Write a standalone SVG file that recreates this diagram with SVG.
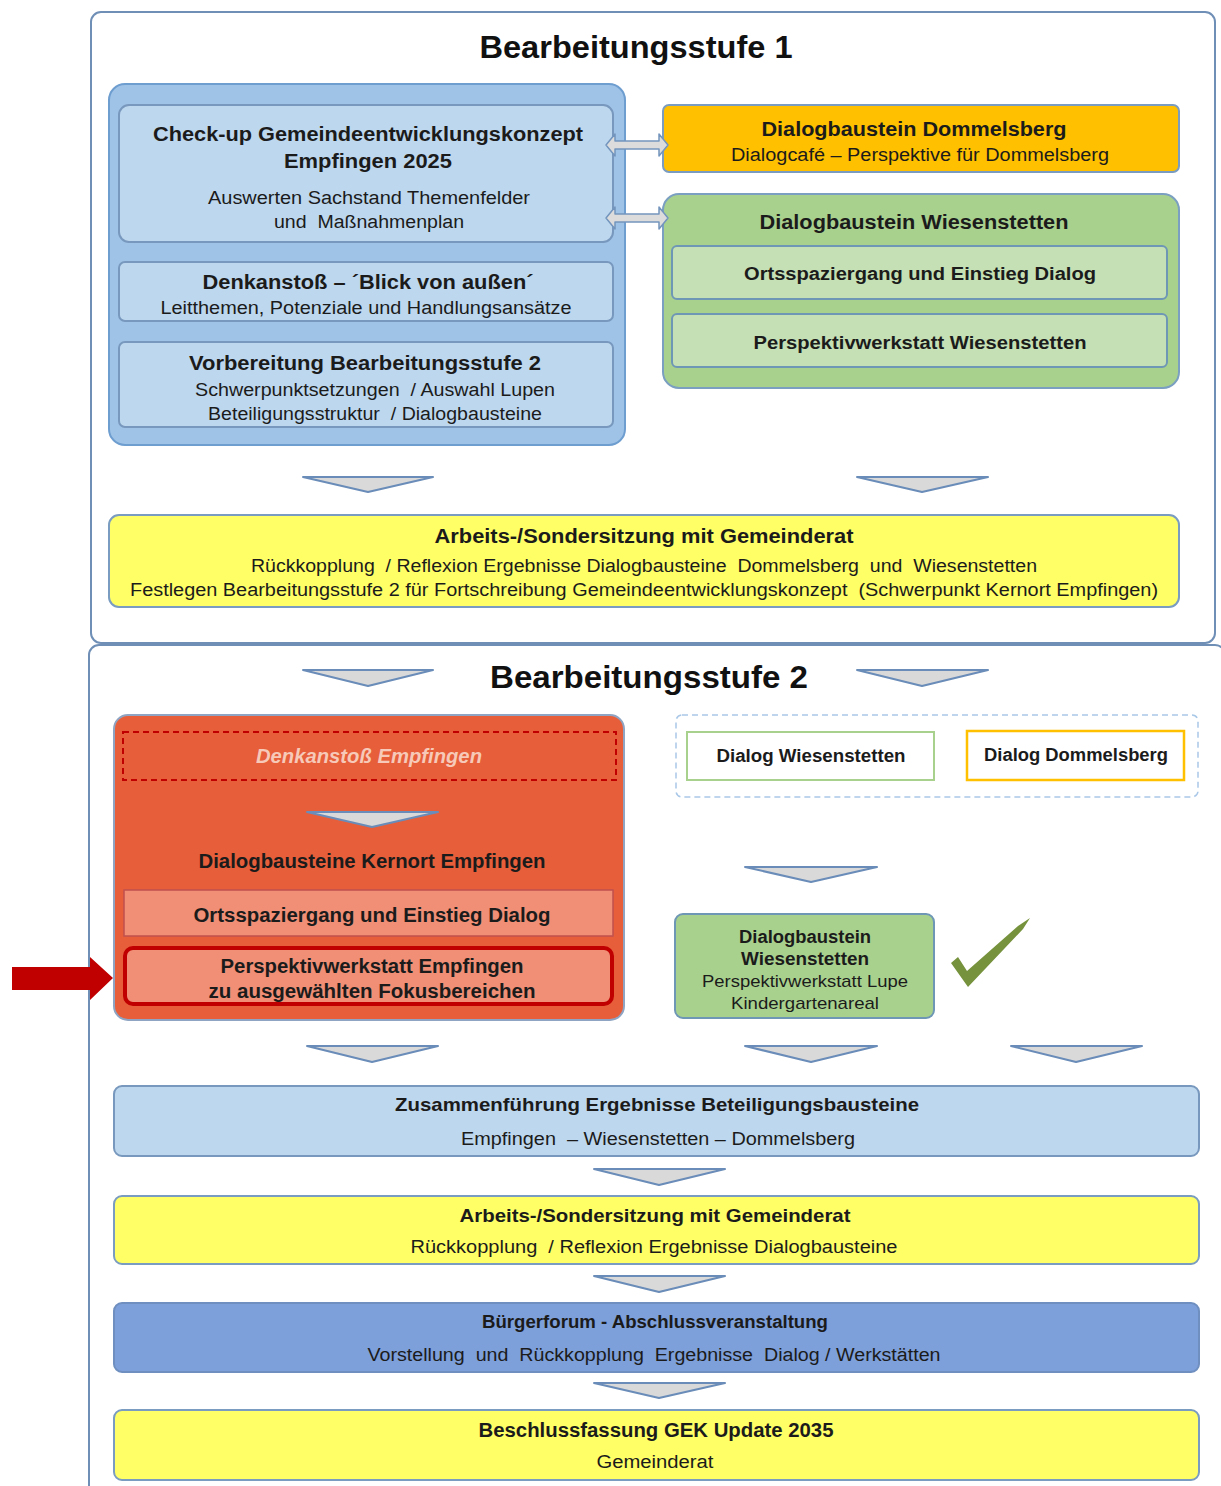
<svg xmlns="http://www.w3.org/2000/svg" width="1221" height="1486" viewBox="0 0 1221 1486">
  <style>
    text { font-family: "Liberation Sans", Arial, sans-serif; fill: #1b1b1b; text-anchor: middle; white-space: pre; }
    .b { font-weight: bold; font-size: 20px; }
    .r { font-size: 18px; }
    .title { font-weight: bold; font-size: 31px; fill: #111; }
    .frame { fill: #ffffff; stroke: #6f8fb6; stroke-width: 2; }
    .chev { fill: #d9d9d9; stroke: #6a8cb8; stroke-width: 2; stroke-linejoin: round; }
    .dbl { fill: #dcdcdc; stroke: #7395bd; stroke-width: 1.5; stroke-linejoin: round; }
    .lb { fill: #bdd7ee; stroke: #7898bd; stroke-width: 2; }
    .yel { fill: #ffff66; stroke: #7a9cc0; stroke-width: 2; }
  </style>

  <!-- stage frames -->
  <rect class="frame" x="91" y="12" width="1124" height="631" rx="10"/>
  <rect class="frame" x="89" y="645" width="1136" height="900" rx="10"/>

  <text class="title" x="636" y="58" textLength="313" lengthAdjust="spacingAndGlyphs">Bearbeitungsstufe 1</text>
  <text class="title" x="649" y="688" textLength="318" lengthAdjust="spacingAndGlyphs">Bearbeitungsstufe 2</text>

  <!-- Stage 1: check-up block -->
  <g id="checkup-group">
    <rect x="109" y="84" width="516" height="361" rx="16" fill="#9fc3e7" stroke="#6e9dd0" stroke-width="2"/>
  </g>
  <g id="checkup">
    <rect class="lb" x="119" y="105" width="494" height="137" rx="10"/>
    <text class="b" x="368" y="141" textLength="430" lengthAdjust="spacingAndGlyphs">Check-up Gemeindeentwicklungskonzept</text>
    <text class="b" x="368" y="168" textLength="168" lengthAdjust="spacingAndGlyphs">Empfingen 2025</text>
    <text class="r" x="369" y="204" textLength="322" lengthAdjust="spacingAndGlyphs">Auswerten Sachstand Themenfelder</text>
    <text class="r" x="369" y="228" textLength="190" lengthAdjust="spacingAndGlyphs">und  Maßnahmenplan</text>
  </g>
  <g id="denkanstoss">
    <rect class="lb" x="119" y="262" width="494" height="59" rx="6"/>
    <text class="b" x="368" y="289" textLength="331" lengthAdjust="spacingAndGlyphs">Denkanstoß – ´Blick von außen´</text>
    <text class="r" x="366" y="314" textLength="411" lengthAdjust="spacingAndGlyphs">Leitthemen, Potenziale und Handlungsansätze</text>
  </g>
  <g id="vorbereitung">
    <rect class="lb" x="119" y="342" width="494" height="85" rx="6"/>
    <text class="b" x="365" y="370" textLength="352" lengthAdjust="spacingAndGlyphs">Vorbereitung Bearbeitungsstufe 2</text>
    <text class="r" x="375" y="396" textLength="360" lengthAdjust="spacingAndGlyphs">Schwerpunktsetzungen  / Auswahl Lupen</text>
    <text class="r" x="375" y="420" textLength="334" lengthAdjust="spacingAndGlyphs">Beteiligungsstruktur  / Dialogbausteine</text>
  </g>

  <!-- Stage 1: dialog modules -->
  <g id="dommelsberg">
    <rect x="663" y="105" width="516" height="67" rx="6" fill="#ffc000" stroke="#7a9cc0" stroke-width="2"/>
    <text class="b" x="914" y="136" textLength="305" lengthAdjust="spacingAndGlyphs">Dialogbaustein Dommelsberg</text>
    <text class="r" x="920" y="161" textLength="378" lengthAdjust="spacingAndGlyphs">Dialogcafé – Perspektive für Dommelsberg</text>
  </g>
  <g id="wiesenstetten">
    <rect x="663" y="194" width="516" height="194" rx="16" fill="#a9d18e" stroke="#7a9fc0" stroke-width="2"/>
    <text class="b" x="914" y="229" textLength="309" lengthAdjust="spacingAndGlyphs">Dialogbaustein Wiesenstetten</text>
  </g>
  <g id="w-ortsspaziergang">
    <rect x="672" y="246" width="495" height="53" rx="5" fill="#c5e0b4" stroke="#6e96b5" stroke-width="2"/>
    <text class="b" x="920" y="280" style="font-size:18px" textLength="352" lengthAdjust="spacingAndGlyphs">Ortsspaziergang und Einstieg Dialog</text>
  </g>
  <g id="w-perspektivwerkstatt">
    <rect x="672" y="314" width="495" height="53" rx="5" fill="#c5e0b4" stroke="#6e96b5" stroke-width="2"/>
    <text class="b" x="920" y="349" style="font-size:18px" textLength="333" lengthAdjust="spacingAndGlyphs">Perspektivwerkstatt Wiesenstetten</text>
  </g>

  <g id="gemeinderat-1">
    <rect class="yel" x="109" y="515" width="1070" height="92" rx="10"/>
    <text class="b" x="644" y="543" textLength="419" lengthAdjust="spacingAndGlyphs">Arbeits-/Sondersitzung mit Gemeinderat</text>
    <text class="r" x="644" y="572" textLength="786" lengthAdjust="spacingAndGlyphs">Rückkopplung  / Reflexion Ergebnisse Dialogbausteine  Dommelsberg  und  Wiesenstetten</text>
    <text class="r" x="644" y="596" textLength="1028" lengthAdjust="spacingAndGlyphs">Festlegen Bearbeitungsstufe 2 für Fortschreibung Gemeindeentwicklungskonzept  (Schwerpunkt Kernort Empfingen)</text>
  </g>

  <!-- Stage 2: Empfingen -->
  <g id="kernort">
    <rect x="114" y="715" width="510" height="305" rx="14" fill="#e75e3a" stroke="#8ea4c2" stroke-width="2"/>
    <text class="b" x="372" y="868" textLength="347" lengthAdjust="spacingAndGlyphs">Dialogbausteine Kernort Empfingen</text>
  </g>
  <g id="denkanstoss-empfingen">
    <rect x="123" y="732" width="493" height="48" fill="none" stroke="#c00000" stroke-width="2" stroke-dasharray="6 4"/>
    <text class="b" x="369" y="763" style="font-style:italic;fill:#f6c9b8" textLength="226" lengthAdjust="spacingAndGlyphs">Denkanstoß Empfingen</text>
  </g>
  <g id="e-ortsspaziergang">
    <rect x="124" y="890" width="489" height="46" fill="#f08f75" stroke="#c0504d" stroke-width="1.5"/>
    <text class="b" x="372" y="922" textLength="357" lengthAdjust="spacingAndGlyphs">Ortsspaziergang und Einstieg Dialog</text>
  </g>
  <g id="e-perspektivwerkstatt">
    <rect x="125" y="948" width="487" height="56" rx="8" fill="#f08f75" stroke="#c00000" stroke-width="4"/>
    <text class="b" x="372" y="973" textLength="303" lengthAdjust="spacingAndGlyphs">Perspektivwerkstatt Empfingen</text>
    <text class="b" x="372" y="998" textLength="327" lengthAdjust="spacingAndGlyphs">zu ausgewählten Fokusbereichen</text>
  </g>

  <!-- Stage 2: other villages -->
  <g id="dialog-orte">
    <rect x="676" y="715" width="522" height="82" rx="6" fill="none" stroke="#a9c8e8" stroke-width="1.5" stroke-dasharray="6 4"/>
  </g>
  <g id="dialog-wiesenstetten">
    <rect x="687" y="732" width="247" height="48" fill="#ffffff" stroke="#a9d18e" stroke-width="2"/>
    <text class="b" x="811" y="762" style="font-size:18px" textLength="189" lengthAdjust="spacingAndGlyphs">Dialog Wiesenstetten</text>
  </g>
  <g id="dialog-dommelsberg">
    <rect x="967" y="731" width="217" height="49" fill="#ffffff" stroke="#ffc000" stroke-width="2.5"/>
    <text class="b" x="1076" y="761" style="font-size:18px" textLength="184" lengthAdjust="spacingAndGlyphs">Dialog Dommelsberg</text>
  </g>
  <g id="lupe-wiesenstetten">
    <rect x="675" y="914" width="259" height="104" rx="8" fill="#a9d18e" stroke="#6e96b5" stroke-width="2"/>
    <text class="b" x="805" y="943" style="font-size:18px" textLength="132" lengthAdjust="spacingAndGlyphs">Dialogbaustein</text>
    <text class="b" x="805" y="965" style="font-size:18px" textLength="128" lengthAdjust="spacingAndGlyphs">Wiesenstetten</text>
    <text class="r" x="805" y="987" style="font-size:17px" textLength="206" lengthAdjust="spacingAndGlyphs">Perspektivwerkstatt Lupe</text>
    <text class="r" x="805" y="1009" style="font-size:17px" textLength="148" lengthAdjust="spacingAndGlyphs">Kindergartenareal</text>
  </g>
  <!-- done mark -->
  <path d="M951,963 L958,957 L967,971 L1018,926 L1030,918 L1023,929 L968,987 Z" fill="#76923c"/>

  <!-- Stage 2: results chain -->
  <g id="zusammenfuehrung">
    <rect class="lb" x="114" y="1086" width="1085" height="70" rx="8"/>
    <text class="b" x="657" y="1111" style="font-size:19px" textLength="524" lengthAdjust="spacingAndGlyphs">Zusammenführung Ergebnisse Beteiligungsbausteine</text>
    <text class="r" x="658" y="1145" textLength="394" lengthAdjust="spacingAndGlyphs">Empfingen  – Wiesenstetten – Dommelsberg</text>
  </g>
  <g id="gemeinderat-2">
    <rect class="yel" x="114" y="1196" width="1085" height="68" rx="8"/>
    <text class="b" x="655" y="1222" style="font-size:19px" textLength="391" lengthAdjust="spacingAndGlyphs">Arbeits-/Sondersitzung mit Gemeinderat</text>
    <text class="r" x="654" y="1253" textLength="487" lengthAdjust="spacingAndGlyphs">Rückkopplung  / Reflexion Ergebnisse Dialogbausteine</text>
  </g>
  <g id="buergerforum">
    <rect x="114" y="1303" width="1085" height="69" rx="8" fill="#7d9fda" stroke="#6e8fbf" stroke-width="2"/>
    <text class="b" x="655" y="1328" style="font-size:18px" textLength="346" lengthAdjust="spacingAndGlyphs">Bürgerforum - Abschlussveranstaltung</text>
    <text class="r" x="654" y="1361" textLength="573" lengthAdjust="spacingAndGlyphs">Vorstellung  und  Rückkopplung  Ergebnisse  Dialog / Werkstätten</text>
  </g>
  <g id="beschluss">
    <rect class="yel" x="114" y="1410" width="1085" height="70" rx="8"/>
    <text class="b" x="656" y="1437" textLength="355" lengthAdjust="spacingAndGlyphs">Beschlussfassung GEK Update 2035</text>
    <text class="r" x="655" y="1468" textLength="117" lengthAdjust="spacingAndGlyphs">Gemeinderat</text>
  </g>

  <!-- connectors -->
  <g id="connectors">
    <!-- two-way links between check-up and dialog modules -->
    <polygon class="dbl" points="606,145 615,134 615,141 659,141 659,134 668,145 659,156 659,149 615,149 615,156"/>
    <polygon class="dbl" points="606,218 615,207 615,214 659,214 659,207 668,218 659,229 659,222 615,222 615,229"/>
    <!-- flow chevrons -->
    <polygon class="chev" points="303,477 433,477 368,492"/>
    <polygon class="chev" points="857,477 988,477 922,492"/>
    <polygon class="chev" points="303,670 433,670 368,686"/>
    <polygon class="chev" points="857,670 988,670 922,686"/>
    <polygon class="chev" points="307,812 438,812 372,827"/>
    <polygon class="chev" points="745,867 877,867 811,882"/>
    <polygon class="chev" points="307,1046 438,1046 372,1062"/>
    <polygon class="chev" points="745,1046 877,1046 811,1062"/>
    <polygon class="chev" points="1011,1046 1142,1046 1076,1062"/>
    <polygon class="chev" points="594,1169 725,1169 659,1185"/>
    <polygon class="chev" points="594,1276 725,1276 659,1292"/>
    <polygon class="chev" points="594,1383 725,1383 659,1398"/>
    <!-- focus pointer -->
    <polygon points="12,967 90,967 90,957 113,978 90,1000 90,990 12,990" fill="#c00000"/>
  </g>
</svg>
